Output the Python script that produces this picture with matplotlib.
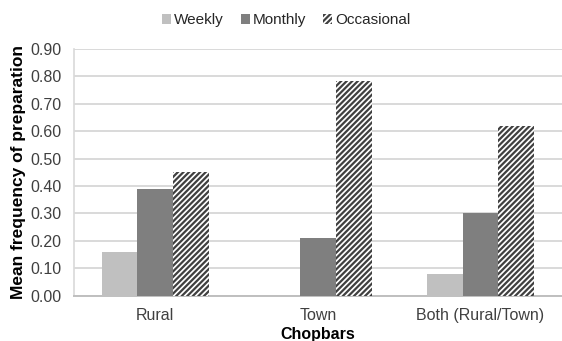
import numpy as np
import matplotlib.pyplot as plt

plt.rcParams['font.family'] = ['Liberation Sans', 'DejaVu Sans']
plt.rcParams['hatch.linewidth'] = 1.6

# Mean frequency of preparation by chopbar location
categories = ['Rural', 'Town', 'Both (Rural/Town)']
weekly = [0.16, 0.0, 0.08]
monthly = [0.39, 0.21, 0.30]
occasional = [0.45, 0.785, 0.62]
yticks = np.arange(0, 0.91, 0.1)

fig = plt.figure(figsize=(5.62, 3.41), dpi=100)
ax = fig.add_axes([0.1317, 0.1334, 0.868, 0.7229])

x = np.arange(len(categories))
w = 0.22
ax.bar(x - w, weekly, w, color='#c0c0c0', linewidth=0, label='Weekly', zorder=3)
ax.bar(x, monthly, w, color='#7f7f7f', linewidth=0, label='Monthly', zorder=3)
ax.bar(x + w, occasional, w, color='white', edgecolor='#404040', hatch='//////',
       linewidth=0, label='Occasional', zorder=3)

ax.set_xlim(-0.5, 2.5)
ax.set_ylim(0, 0.9)
ax.set_yticks(yticks)
ax.set_yticklabels(['%.2f' % v for v in yticks])
ax.set_xticks(x)
ax.set_xticklabels(categories)
ax.tick_params(axis='both', length=0, labelsize=11.5, colors='#404040')
ax.tick_params(axis='x', pad=9)
ax.tick_params(axis='y', pad=9)

ax.yaxis.grid(True, color='#d9d9d9', linewidth=1.4, zorder=0)
for s in ['top', 'right']:
    ax.spines[s].set_visible(False)
ax.spines['left'].set_color('#d9d9d9')
ax.spines['left'].set_linewidth(1.2)
ax.spines['bottom'].set_color('#bfbfbf')
ax.spines['bottom'].set_linewidth(1.4)

ax.set_xlabel('Chopbars', fontsize=11.5, fontweight='bold', labelpad=3)
ax.set_ylabel('Mean frequency of preparation', fontsize=12.5, fontweight='bold', labelpad=3)

fig.legend(loc='center', bbox_to_anchor=(0.509, 0.94), ncol=3, frameon=False,
           fontsize=11, handlelength=0.6, handleheight=0.6, handletextpad=0.2,
           columnspacing=1.1, labelcolor='#262626')

fig.savefig('out.png', dpi=100)
